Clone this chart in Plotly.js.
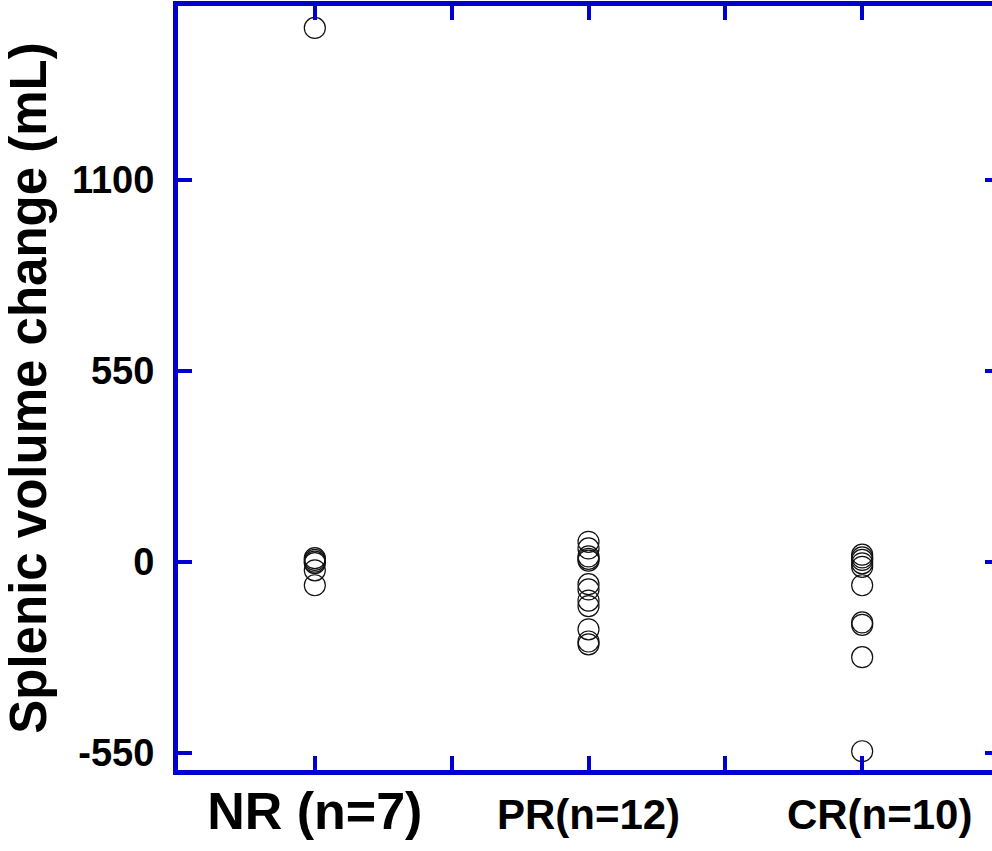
<!DOCTYPE html>
<html>
<head>
<meta charset="utf-8">
<script src="https://cdn.plot.ly/plotly-3.0.1.min.js"></script>
<style>
  html, body { margin: 0; padding: 0; overflow: hidden; background: #fff; }
  #chart { width: 1003px; height: 851px; }
</style>
</head>
<body>
<div id="chart"></div>
<script>
// Categories and per-group values (mL)
const categories = ["NR (n=7)", "PR(n=12)", "CR(n=10)"];
const nrValues = [1537, 10, 5, 0, -4, -25, -68];
const prValues = [57, 38, 15, 8, 3, -65, -80, -112, -128, -195, -230, -238];
const crValues = [20, 12, 5, -5, -15, -68, -175, -182, -275, -546];
const yTickValues = [-550, 0, 550, 1100];
const yTitle = "Splenic volume change (mL)";

const groups = [nrValues, prValues, crValues];
const xs = [], ys = [];
groups.forEach((vals, i) => vals.forEach(v => { xs.push(i); ys.push(v); }));

// ticks at each category and at midpoints between them
const labelSizes = [52, 42, 42];
const labelPad = ["", "", "&nbsp;&nbsp;&nbsp;"];
const xTickVals = [], xTickText = [];
categories.forEach((c, i) => {
  xTickVals.push(i);
  xTickText.push('<span style="font-size:' + labelSizes[i] + 'px">' + labelPad[i] + c + '</span>');
  if (i < categories.length - 1) { xTickVals.push(i + 0.5); xTickText.push(""); }
});

const blue = "#0000d0";

const trace = {
  type: "scatter",
  mode: "markers",
  x: xs,
  y: ys,
  marker: { symbol: "circle-open", size: 21, color: "#111", line: { width: 1.2, color: "#111" } },
  hoverinfo: "y"
};

const layout = {
  width: 1003,
  height: 851,
  margin: { l: 178, r: 4, t: 6, b: 81 },
  paper_bgcolor: "#fff",
  plot_bgcolor: "#fff",
  showlegend: false,
  xaxis: {
    range: [-0.5, 2.5],
    tickvals: xTickVals,
    ticktext: xTickText,
    ticks: "inside",
    ticklen: 14,
    tickwidth: 4,
    tickcolor: blue,
    showline: true,
    linecolor: blue,
    linewidth: 5,
    mirror: "ticks",
    showgrid: false,
    zeroline: false,
    ticklabelstandoff: 4,
    tickfont: { family: "Liberation Sans, Arial, sans-serif", size: 42, color: "#000", weight: "bold" }
  },
  yaxis: {
    range: [-600, 1600],
    tickvals: yTickValues,
    ticktext: yTickValues.map(String),
    ticks: "inside",
    ticklen: 14,
    tickwidth: 4,
    tickcolor: blue,
    showline: true,
    linecolor: blue,
    linewidth: 5,
    mirror: "ticks",
    showgrid: false,
    zeroline: false,
    ticklabelstandoff: 11,
    tickfont: { family: "Liberation Sans, Arial, sans-serif", size: 38, color: "#000", weight: "bold" },
    title: {
      text: yTitle,
      font: { family: "Liberation Sans, Arial, sans-serif", size: 51, color: "#000", weight: "bold" },
      standoff: 12
    }
  }
};

Plotly.newPlot("chart", [trace], layout, { displayModeBar: false, staticPlot: true });
</script>
</body>
</html>
